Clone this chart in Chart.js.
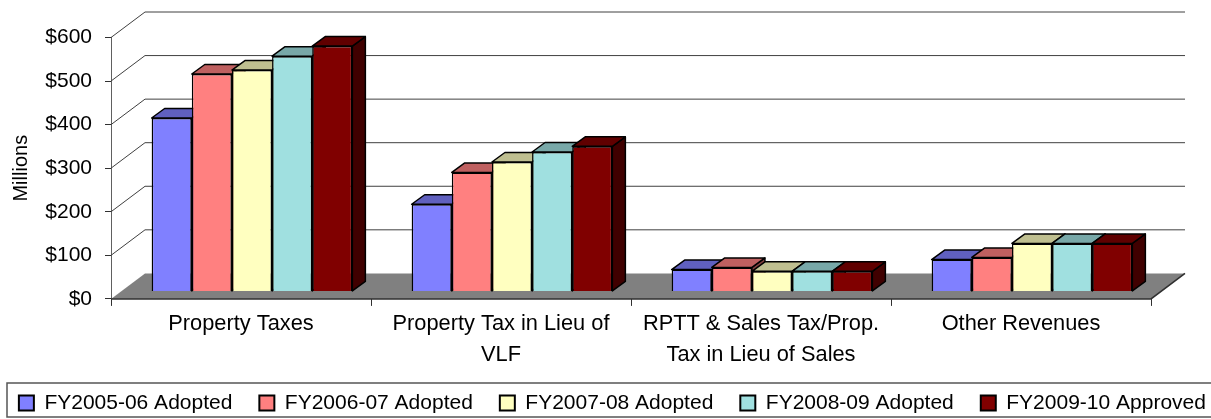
<!DOCTYPE html>
<html><head><meta charset="utf-8">
<style>html,body{margin:0;padding:0;background:#fff}canvas{display:block}</style>
<script src="https://cdn.jsdelivr.net/npm/chart.js@4"></script>
</head><body><canvas id="c" width="1211" height="419"></canvas>
<script>
const categories = [["Property Taxes"],["Property Tax in Lieu of","VLF"],["RPTT & Sales Tax/Prop.","Tax in Lieu of Sales"],["Other Revenues"]];
const seriesNames = ["FY2005-06 Adopted","FY2006-07 Adopted","FY2007-08 Adopted","FY2008-09 Adopted","FY2009-10 Approved"];
const fy0506 = [398,200,50,73];
const fy0607 = [499,273,55,78];
const fy0708 = [508,297,46,110];
const fy0809 = [540,320,46,110];
const fy0910 = [563,333,46,110];
const seriesValues = [fy0506,fy0607,fy0708,fy0809,fy0910];
const frontColors = ["#8080FF","#FF8080","#FFFFC0","#A0E0E0","#800000"];
const topColors = ["#6060BF","#BF6060","#BFBF90","#78A8A8","#600000"];
const sideColors = ["#404080","#804040","#808060","#507070","#400000"];
const wallDx = 34, wallDy = -25.5;
const barDx = 11, barDy = -7.5, depthX = 13, depthY = -9.5;
const FONT = "'Liberation Sans', Arial, sans-serif";

const poly = (ctx, pts, fill, stroke, lw) => {
  ctx.beginPath();
  pts.forEach((p,i)=> i ? ctx.lineTo(p[0],p[1]) : ctx.moveTo(p[0],p[1]));
  ctx.closePath();
  if (fill) { ctx.fillStyle = fill; ctx.fill(); }
  if (stroke) { ctx.strokeStyle = stroke; ctx.lineWidth = lw; ctx.lineJoin = 'round'; ctx.stroke(); }
};

const threeD = {
  id: 'threeD',
  beforeLayout(chart) {
    const lg = chart.legend;
    if (!lg._wide) {
      const u = lg.update;
      lg.update = function (w, h, m) { return u.call(this, w + 60, h, m); };
      lg._wide = true;
    }
  },
  afterLayout(chart) {
    chart.legend.left = -15.2;
    chart.legend.right = 1240;
  },
  beforeDatasetsDraw(chart) {
    const ctx = chart.ctx, {left, right} = chart.chartArea, y = chart.scales.y;
    const y0 = y.getPixelForValue(0);
    ctx.save();
    y.ticks.forEach(t => {
      const py = y.getPixelForValue(t.value);
      if (t.value === 0) return;
      ctx.strokeStyle = '#404040'; ctx.lineWidth = 1;
      ctx.beginPath();
      ctx.moveTo(left, py);
      ctx.lineTo(left + wallDx, py + wallDy);
      ctx.lineTo(right + wallDx, py + wallDy);
      ctx.stroke();
    });
    poly(ctx, [[left,y0],[left+wallDx,y0+wallDy],[right+wallDx,y0+wallDy],[right,y0]], '#808080', null, 0);
    ctx.strokeStyle = '#303030'; ctx.lineWidth = 1.5;
    ctx.beginPath(); ctx.moveTo(left,y0); ctx.lineTo(right,y0); ctx.lineTo(right+wallDx,y0+wallDy); ctx.stroke();
    ctx.restore();
    // paint series left to right so each bar hides the side of the previous one
    seriesNames.forEach((n,i) => {
      const meta = chart.getDatasetMeta(i);
      ctx.save();
      ctx.translate(barDx, barDy);
      meta.data.forEach(el => {
        const l = el.x - el.width/2, r = el.x + el.width/2, t = el.y, b = el.base;
        poly(ctx, [[r,t],[r+depthX,t+depthY],[r+depthX,b+depthY],[r,b]], sideColors[i], '#000', 1.5);
        poly(ctx, [[l,t],[l+depthX,t+depthY],[r+depthX,t+depthY],[r,t]], topColors[i], '#000', 1.5);
      });
      meta.controller.draw();
      ctx.restore();
    });
    return false;
  },
  beforeDraw(chart) {
    const ctx = chart.ctx;
    ctx.save();
    ctx.fillStyle = '#fff'; ctx.fillRect(0,0,chart.width,chart.height);
    ctx.strokeStyle = '#555'; ctx.lineWidth = 1.5;
    ctx.strokeRect(7, 383, 1212, 34);
    ctx.restore();
  }
};

new Chart(document.getElementById('c'), {
  type: 'bar',
  data: {
    labels: categories,
    datasets: seriesNames.map((n,i)=>({
      label: n, data: seriesValues[i],
      backgroundColor: frontColors[i], borderColor: '#000', borderWidth: 1.5,
      categoryPercentage: 0.772, barPercentage: 1, clip: false
    }))
  },
  plugins: [threeD],
  options: {
    responsive: false, animation: false, devicePixelRatio: 1,
    layout: { padding: { left: 0, right: 0, top: 37.5, bottom: -4.6 } },
    plugins: {
      tooltip: { enabled: false },
      legend: {
        position: 'bottom',
        labels: {
          color: '#000', boxWidth: 15, boxHeight: 15, padding: 27,
          font: { family: FONT, size: 21 },
          generateLabels(chart) {
            return seriesNames.map((n,i)=>({text:n, fillStyle:frontColors[i], strokeStyle:'#000', lineWidth:2, datasetIndex:i, fontColor:'#000'}));
          }
        }
      }
    },
    scales: {
      x: {
        grid: { display: true, drawOnChartArea: false, drawTicks: true, tickLength: 7, color: '#303030', lineWidth: 1 },
        border: { color: '#303030' },
        ticks: { color: '#000', font: { family: FONT, size: 21.8, lineHeight: 1.4 }, maxRotation: 0, minRotation: 0, autoSkip: false, padding: 3 },
        afterFit(s) { s.height = 66.7; }
      },
      y: {
        min: 0, max: 600,
        grid: { drawOnChartArea: false, tickLength: 6, color: '#303030', lineWidth: 1 },
        border: { color: '#606060' },
        ticks: { stepSize: 100, color: '#000', font: { family: FONT, size: 21 }, padding: 13, callback: v => '$' + v },
        title: { display: true, text: 'Millions', color: '#000', font: { family: FONT, size: 20 }, padding: { top: 9, bottom: 0 } },
        afterFit(s) { s.width = 111; }
      },
      rightGutter: {
        position: 'right', display: true,
        grid: { display: false }, border: { display: false }, ticks: { display: false },
        afterFit(s) { s.width = 60; }
      }
    }
  }
});
</script></body></html>
